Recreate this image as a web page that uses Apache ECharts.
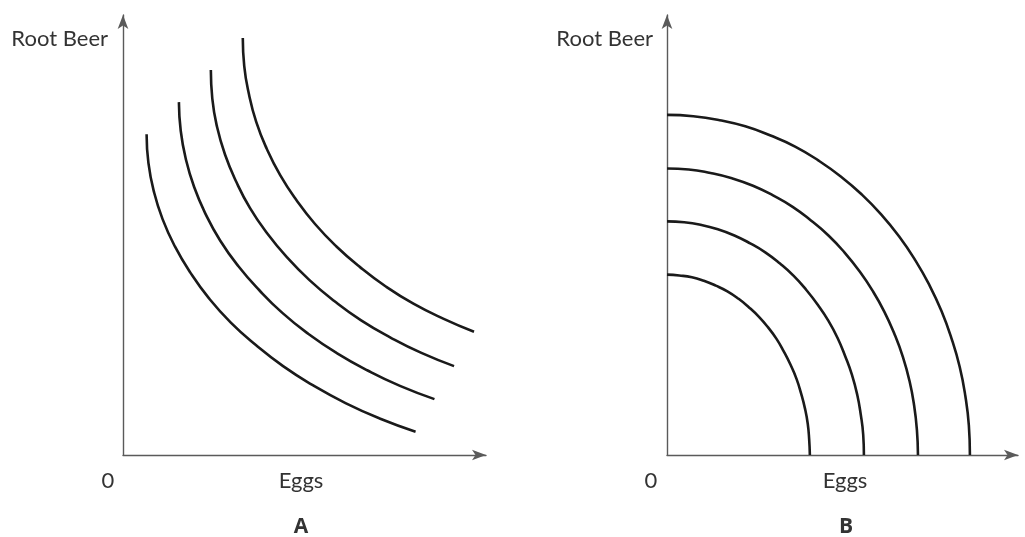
<!DOCTYPE html>
<html>
<head>
<meta charset="utf-8">
<script src="https://cdn.jsdelivr.net/npm/echarts@6/dist/echarts.min.js"></script>
<style>
  html, body { margin: 0; padding: 0; background: #ffffff; }
  #chart { width: 1025px; height: 537px; }
</style>
</head>
<body>
<div id="chart"></div>
<script>
// Panel A: four convex indifference curves (Eggs, Root Beer), axis units 0-100
const curveA1 = [[6.5,72.9],[7.0,66.4],[8.5,59.9],[10.9,53.6],[14.3,47.4],[18.6,41.4],[23.7,35.6],[29.7,30.1],[36.6,25.0],[44.1,20.2],[52.4,15.8],[61.3,11.8],[70.7,8.3],[80.6,5.3]];
const curveA2 = [[15.4,80.2],[15.9,73.7],[17.3,67.3],[19.6,60.9],[22.8,54.7],[26.8,48.7],[31.8,42.9],[37.5,37.5],[43.9,32.3],[51.1,27.5],[59.0,23.1],[67.4,19.2],[76.3,15.7],[85.8,12.7]];
const curveA3 = [[24.2,87.5],[24.6,81.0],[25.9,74.6],[28.1,68.3],[31.2,62.1],[35.0,56.1],[39.7,50.4],[45.2,44.9],[51.3,39.8],[58.2,35.0],[65.6,30.6],[73.7,26.7],[82.2,23.2],[91.2,20.2]];
const curveA4 = [[33.0,94.8],[33.4,88.4],[34.7,82.0],[36.7,75.7],[39.6,69.6],[43.3,63.6],[47.8,57.9],[52.9,52.5],[58.8,47.4],[65.3,42.7],[72.4,38.3],[80.0,34.4],[88.2,31.0],[96.7,28.0]];

// Panel B: four concave curves bowed out from the origin
const curveB1 = [[0,41.0],[3.5,40.8],[7.1,40.4],[10.5,39.6],[13.9,38.5],[17.2,37.2],[20.4,35.5],[23.3,33.6],[26.2,31.4],[28.8,29.0],[31.2,26.4],[33.3,23.5],[35.2,20.5],[36.9,17.3],[38.2,14.0],[39.3,10.6],[40.1,7.1],[40.5,3.6],[40.7,0]];
const curveB2 = [[0,53.1],[4.9,52.9],[9.7,52.3],[14.5,51.3],[19.2,49.9],[23.7,48.1],[28.1,46.0],[32.2,43.5],[36.1,40.7],[39.7,37.5],[43.0,34.1],[46.0,30.5],[48.6,26.6],[50.8,22.4],[52.7,18.2],[54.2,13.7],[55.2,9.2],[55.9,4.6],[56.1,0]];
const curveB3 = [[0,65.1],[6.2,64.9],[12.4,64.1],[18.5,62.9],[24.5,61.2],[30.2,59.0],[35.8,56.4],[41.0,53.3],[46.0,49.9],[50.6,46.0],[54.8,41.8],[58.6,37.3],[61.9,32.6],[64.8,27.5],[67.2,22.3],[69.1,16.8],[70.4,11.3],[71.2,5.7],[71.5,0]];
const curveB4 = [[0,77.3],[7.5,77.0],[15.0,76.1],[22.3,74.7],[29.5,72.6],[36.5,70.1],[43.2,66.9],[49.5,63.3],[55.5,59.2],[61.0,54.7],[66.1,49.7],[70.7,44.3],[74.7,38.7],[78.2,32.7],[81.1,26.4],[83.4,20.0],[85.0,13.4],[86.0,6.7],[86.3,0]];

const panelLabels = ['A', 'B'];
const xName = 'Eggs';
const yName = 'Root Beer';
const originLabel = '0';

const FONT = 'Lato, "Open Sans", sans-serif';
const BOLD_FONT = '"Open Sans", "Noto Sans", sans-serif';
const axisColor = '#5a5a5a';
const curveColor = '#1a1a1a';
const textColor = '#333333';

function makeAxis(gridIndex) {
  return {
    gridIndex, type: 'value', min: 0, max: 100,
    axisLine: { lineStyle: { color: axisColor, width: 1.4 }, symbol: ['none', 'arrow'], symbolSize: [8, 14] },
    axisTick: { show: false }, axisLabel: { show: false }, splitLine: { show: false }
  };
}
function curve(data, idx) {
  return {
    type: 'line', data, xAxisIndex: idx, yAxisIndex: idx,
    smooth: 0.5, showSymbol: false, silent: true,
    lineStyle: { color: curveColor, width: 2.6 }
  };
}
function label(text, x, y, align, size, weight, family) {
  return {
    type: 'text', silent: true,
    style: {
      text, x, y, align, verticalAlign: 'middle', textAlign: align, textVerticalAlign: 'middle',
      fill: textColor, fontSize: size, fontWeight: weight || 'normal', fontFamily: family || FONT
    }
  };
}

const chart = echarts.init(document.getElementById('chart'), null, { renderer: 'canvas' });
chart.setOption({
  animation: false,
  backgroundColor: '#ffffff',
  grid: [
    { left: 123, top: 15, width: 363, height: 440 },
    { left: 667, top: 15, width: 351, height: 440 }
  ],
  xAxis: [makeAxis(0), makeAxis(1)],
  yAxis: [makeAxis(0), makeAxis(1)],
  series: [
    curve(curveA1, 0), curve(curveA2, 0), curve(curveA3, 0), curve(curveA4, 0),
    curve(curveB1, 1), curve(curveB2, 1), curve(curveB3, 1), curve(curveB4, 1)
  ],
  graphic: [
    label(yName, 108, 39, 'right', 22),
    label(yName, 653, 39, 'right', 22),
    label(originLabel, 108, 481, 'center', 22),
    label(originLabel, 651, 481, 'center', 22),
    label(xName, 301, 481, 'center', 22),
    label(xName, 845, 481, 'center', 22),
    label(panelLabels[0], 301, 527, 'center', 21, 700, BOLD_FONT),
    label(panelLabels[1], 846, 527, 'center', 21, 700, BOLD_FONT)
  ]
});
</script>
</body>
</html>
